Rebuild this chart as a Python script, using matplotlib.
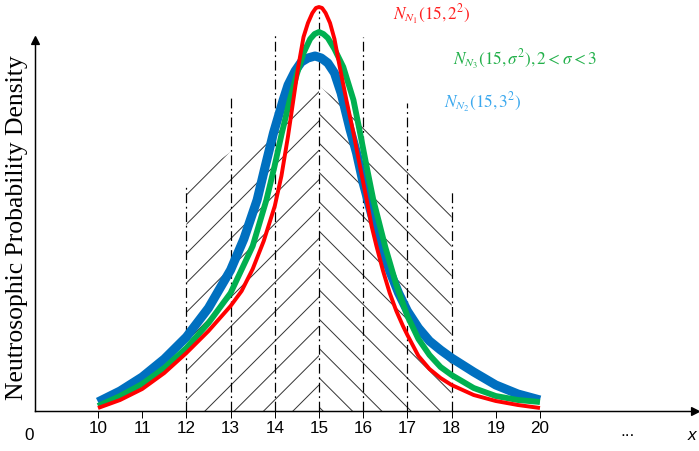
import matplotlib

matplotlib.use("Agg")
import matplotlib.pyplot as plt

# ---- data (density in units of 1e-3) ---------------------------------------
blue_x = [10.0, 10.5, 11.0, 11.5, 12.0, 12.5, 13.0, 13.3, 13.6, 13.78, 13.97,
          14.19, 14.3, 14.46, 14.6, 14.75, 14.91, 15.05, 15.2, 15.35, 15.5,
          15.7, 15.85, 16.0, 16.2, 16.35, 16.6, 16.8, 17.0, 17.25, 17.5,
          17.75, 18.0, 18.5, 19.0, 19.5, 20.0]
blue_y = [9, 20, 34, 52, 74, 103, 141, 172, 211, 244, 278,
          311, 326, 340, 349, 353, 355, 353, 348, 338, 318,
          282, 258, 228, 195, 174, 140, 118, 100, 83, 70,
          61, 53, 39, 26, 17, 11]

green_x = [10.0, 10.5, 11.0, 11.5, 12.0, 12.5, 13.0, 13.5, 13.81, 13.99,
           14.16, 14.34, 14.5, 14.65, 14.8, 14.9, 15.0, 15.1, 15.2, 15.35,
           15.55, 15.78, 15.93, 16.08, 16.23, 16.5, 16.75, 17.0, 17.25,
           17.5, 17.75, 18.0, 18.5, 19.0, 19.5, 20.0]
green_y = [5, 15, 27, 43, 63, 88, 118, 165, 211, 244,
           278, 311, 337, 358, 372, 377, 379, 377, 373, 362,
           344, 311, 278, 244, 211, 164, 126, 95, 72,
           56, 44, 36, 23, 15, 11, 9]

red_x = [10.0, 10.5, 11.0, 11.5, 12.0, 12.5, 13.0, 13.25, 13.5, 13.75, 14.0,
         14.15, 14.3, 14.42, 14.53, 14.65, 14.75, 14.85, 14.93, 15.0, 15.07,
         15.15, 15.25, 15.35, 15.47, 15.62, 15.78, 15.93, 16.08, 16.19,
         16.3, 16.45, 16.6, 16.75, 16.9, 17.0, 17.25, 17.5, 17.75, 18.0,
         18.5, 19.0, 19.5, 20.0]
red_y = [3, 11, 22, 38, 58, 80, 105, 120, 142, 170, 205,
         235, 275, 311, 344, 374, 388, 398, 403, 404, 403,
         398, 388, 372, 344, 311, 278, 244, 211, 185,
         165, 140, 118, 100, 85, 76, 55, 42, 33, 26,
         16, 10, 6, 3]

hatch_x = [12, 15, 18]
hatch_top = [226, 325, 221]

guide_x = [12, 13, 14, 15, 16, 17, 18]
guide_top = [226, 314, 376, 400, 374, 308, 221]

tick_x = list(range(10, 21))

labels = [
    (r"$N_{N_1}(15,2^2)$", 16.67, 396, "#ff2020"),
    (r"$N_{N_3}(15,\sigma^2),2<\sigma<3$", 18.03, 351, "#22b04a"),
    (r"$N_{N_2}(15,3^2)$", 17.83, 308, "#3aa8ee"),
]

plt.rcParams["mathtext.fontset"] = "stix"
plt.rcParams["hatch.linewidth"] = 0.8

DPI = 88
fig = plt.figure(figsize=(699 / DPI, 451 / DPI), dpi=DPI)
ax = fig.add_axes([35 / 699, 40 / 451, 660 / 699, 411 / 451])
ax.set_xlim(8.575, 23.507)
ax.set_ylim(0, 0.411)


def scale(vals):
    return [v / 1000 for v in vals]


# hatched region: "/" left of the mean, "\" right of it
ax.fill_between(hatch_x[:2], 0, scale(hatch_top[:2]), facecolor="none",
                edgecolor="#333333", linewidth=0, hatch="/", zorder=1)
ax.fill_between(hatch_x[1:], 0, scale(hatch_top[1:]), facecolor="none",
                edgecolor="#333333", linewidth=0, hatch="\\", zorder=1)
ax.vlines(guide_x, 0, scale(guide_top), colors="black", linewidth=1.0,
          linestyles=[(0, (8, 3, 1.5, 3))], zorder=2)

# the three densities
ax.plot(blue_x, scale(blue_y), color="#0070c0", lw=7.4,
        solid_capstyle="butt", solid_joinstyle="round", zorder=3)
ax.plot(green_x, scale(green_y), color="#00b050", lw=4.8,
        solid_capstyle="butt", solid_joinstyle="round", zorder=4)
ax.plot(red_x, scale(red_y), color="#ff0000", lw=3.2,
        solid_capstyle="butt", solid_joinstyle="round", zorder=5)

for text, x, y, color in labels:
    ax.text(x, y / 1000, text, color=color, fontsize=14, ha="left",
            va="center")

# axes with arrows
for side in ["top", "right"]:
    ax.spines[side].set_visible(False)
ax.spines["left"].set_bounds(0, 0.371)
ax.spines["left"].set_linewidth(1.2)
ax.spines["bottom"].set_linewidth(1.2)
ax.plot(1, 0, ">k", markersize=7, transform=ax.transAxes, clip_on=False)
ax.plot(ax.get_xlim()[0], 0.371, "^k", markersize=7, clip_on=False)

ax.set_yticks([])
ax.set_xticks(tick_x)
ax.set_xticklabels([str(t) for t in tick_x], family="Liberation Sans",
                   fontsize=14)
ax.tick_params(axis="x", direction="out", length=6, width=0.8, pad=2)

tick_font = dict(family="Liberation Sans", fontsize=14, va="center",
                 ha="center")
fig.text(29 / 699, 1 - 435 / 451, "0", **tick_font)
fig.text(627 / 699, 1 - 432 / 451, "...", **tick_font)
fig.text(692 / 699, 1 - 435 / 451, "x", style="italic", **tick_font)

fig.text(17 / 699, 1 - 228 / 451, "Neutrosophic Probability Density",
         family="Liberation Serif", fontsize=21, rotation=90,
         ha="center", va="center")

fig.savefig("out.png", dpi=DPI)
